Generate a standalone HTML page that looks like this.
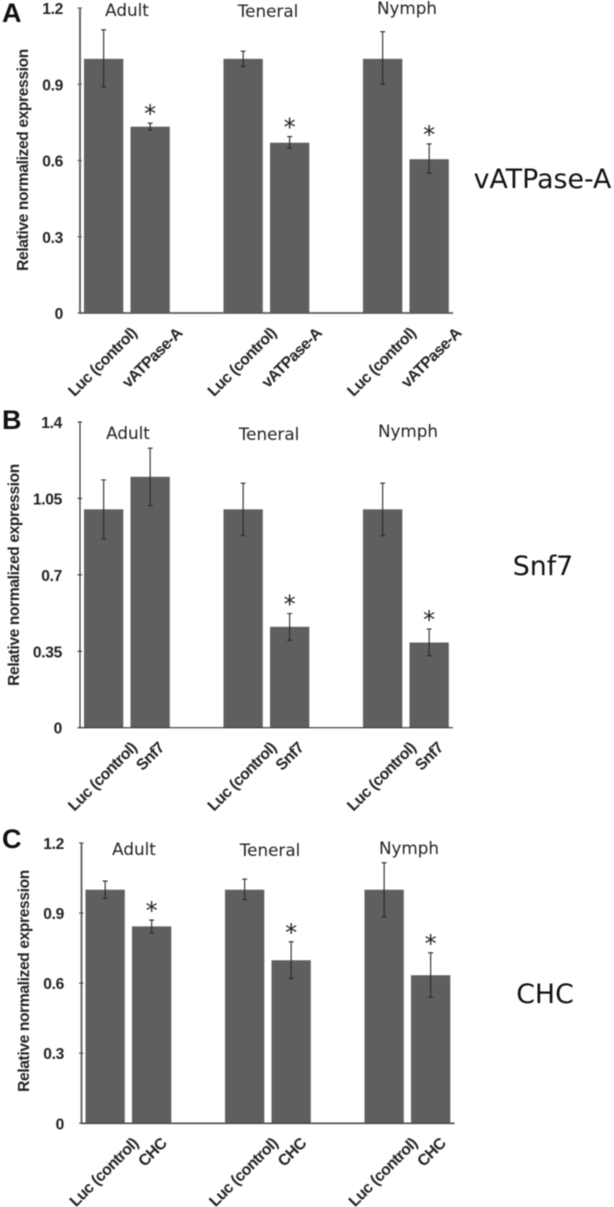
<!DOCTYPE html>
<html lang="en">
<head>
<meta charset="utf-8">
<title>Relative normalized expression after RNAi</title>
<style>
html,body{margin:0;padding:0;background:#fff;width:614px;height:1207px;overflow:hidden}
svg{display:block;filter:blur(0.4px)}
.sans{font-family:"Liberation Sans",sans-serif}
.dv{font-family:"DejaVu Sans",sans-serif}
</style>
</head>
<body>
<svg id="figure" width="614" height="1207" viewBox="0 0 614 1207" xmlns="http://www.w3.org/2000/svg"></svg>
<script>
const stages = ["Adult", "Teneral", "Nymph"];
const controlLabel = "Luc (control)";
const yTitle = "Relative normalized expression";

const geneA = "vATPase-A";
const ticksA = [0, 0.3, 0.6, 0.9, 1.2];
const tickLabelsA = ["0", "0.3", "0.6", "0.9", "1.2"];
const valuesA = [1, 0.733, 1, 0.67, 1, 0.605];
const errTopA = [1.114, 0.747, 1.03, 0.694, 1.107, 0.665];
const errBottomA = [0.89, 0.72, 0.97, 0.648, 0.9, 0.55];
const sigA = [0, 1, 0, 1, 0, 1];

const geneB = "Snf7";
const ticksB = [0, 0.35, 0.7, 1.05, 1.4];
const tickLabelsB = ["0", "0.35", "0.7", "1.05", "1.4"];
const valuesB = [1, 1.149, 1, 0.462, 1, 0.39];
const errTopB = [1.135, 1.28, 1.12, 0.523, 1.12, 0.452];
const errBottomB = [0.865, 1.017, 0.88, 0.4, 0.88, 0.33];
const sigB = [0, 0, 0, 1, 0, 1];

const geneC = "CHC";
const ticksC = [0, 0.3, 0.6, 0.9, 1.2];
const tickLabelsC = ["0", "0.3", "0.6", "0.9", "1.2"];
const valuesC = [1, 0.843, 1, 0.698, 1, 0.634];
const errTopC = [1.037, 0.87, 1.045, 0.777, 1.115, 0.73];
const errBottomC = [0.963, 0.815, 0.958, 0.62, 0.884, 0.54];
const sigC = [0, 1, 0, 1, 0, 1];

const svg = document.getElementById('figure');
const NS = 'http://www.w3.org/2000/svg';

function make(parent, tag, attrs, text) {
  const el = document.createElementNS(NS, tag);
  for (const k in attrs) el.setAttribute(k, attrs[k]);
  if (text !== undefined) el.textContent = text;
  parent.appendChild(el);
  return el;
}

function drawPanel(o) {
  const g = make(svg, 'g', {});
  
  

  const maxV = o.ticks[o.ticks.length - 1];
  const y = v => o.base - (v / maxV) * (o.base - o.top);
  const x = i => o.x0 + Math.floor(i / 2) * 139.5 + (i % 2) * 46.5;
  const barW = 39.3;

  const letter = make(g, 'text', {x: o.letterX, y: o.letterY, 'class': 'sans', 'font-size': 27, 'font-weight': 700, fill: '#111'}, o.letter);
  
  

  o.values.forEach((v, i) => {
    const bar = make(g, 'rect', {x: x(i), y: y(v), width: barW, height: o.base - y(v), fill: '#5f5f5f'});
    
    

    const cx = x(i) + barW / 2;
    const err = make(g, 'path', {
      d: 'M' + cx + ' ' + y(o.errTop[i]) + 'V' + y(o.errBottom[i]) +
         'M' + (cx - 2.5) + ' ' + y(o.errTop[i]) + 'H' + (cx + 2.5) +
         'M' + (cx - 2.5) + ' ' + y(o.errBottom[i]) + 'H' + (cx + 2.5),
      stroke: '#2a2a2a', 'stroke-width': 1.1, fill: 'none'});
    
    

    if (o.sig[i]) {
      const star = make(g, 'text', {x: cx, y: y(o.errTop[i]) - 1, 'class': 'dv', 'font-size': 24, 'text-anchor': 'middle', fill: '#222'}, '*');
      
      
    }

    const isControl = i % 2 === 0;
    const lx = cx + 16 + (isControl ? 18 : o.geneLabelDx);
    const ly = o.base + 21;
    const label = make(g, 'text', {
      x: lx, y: ly, 'class': 'sans', 'font-size': 15.8, 'font-weight': 700, 'letter-spacing': -0.55, 'text-anchor': 'end', fill: '#222',
      transform: 'rotate(-45 ' + lx + ' ' + ly + ')'}, isControl ? controlLabel : o.gene);
    
    
  });

  const axis = make(g, 'path', {
    d: 'M' + o.axisX + ' ' + o.top + 'V' + o.base + 'H' + (o.axisX + 373),
    stroke: o.axisColor, 'stroke-width': o.axisW, fill: 'none'});
  
  

  o.ticks.forEach((t, i) => {
    const tick = make(g, 'line', {x1: o.axisX - 2.5, x2: o.axisX + 2, y1: y(t), y2: y(t), stroke: o.axisColor, 'stroke-width': 1.1});
    
    
    const tl = make(g, 'text', {x: o.tickX, y: y(t) + 6, 'class': 'sans', 'font-size': 15.6, 'font-weight': 700, 'letter-spacing': -0.3, 'text-anchor': 'end', fill: '#222'}, o.tickLabels[i]);
    
    
  });

  const tx = o.titleX, ty = o.titleY;
  const title = make(g, 'text', {x: tx, y: ty, 'class': 'sans', 'font-size': 15.6, 'font-weight': 700, 'letter-spacing': -0.38, 'text-anchor': 'middle', fill: '#222', transform: 'rotate(-90 ' + tx + ' ' + ty + ')'}, yTitle);
  
  

  stages.forEach((s, i) => {
    const st = make(g, 'text', {x: o.stageX[i], y: o.stageY[i], 'class': 'dv', 'font-size': 16.8, 'text-anchor': 'middle', fill: '#222'}, s);
    
    
  });

  const gl = make(g, 'text', {x: o.geneX, y: o.geneY, 'class': 'dv', 'font-size': 26.8, 'text-anchor': 'middle', fill: '#111'}, o.gene);
  
  
}

drawPanel({letter: 'A', letterX: 2, letterY: 22, gene: geneA, ticks: ticksA, tickLabels: tickLabelsA,
  values: valuesA, errTop: errTopA, errBottom: errBottomA, sig: sigA, geneLabelDx: 17,
  top: 8, base: 313, axisX: 80, x0: 84, tickX: 63, titleX: 28, titleY: 160, axisW: 1.8, axisColor: '#5a5a5a',
  stageX: [127, 268, 407], stageY: [16, 17, 14], geneX: 542.5, geneY: 188});

drawPanel({letter: 'B', letterX: 2, letterY: 429, gene: geneB, ticks: ticksB, tickLabels: tickLabelsB,
  values: valuesB, errTop: errTopB, errBottom: errBottomB, sig: sigB, geneLabelDx: -1,
  top: 422, base: 727.7, axisX: 80, x0: 84, tickX: 62, titleX: 19, titleY: 575, axisW: 1.2, axisColor: '#333',
  stageX: [128, 269, 408], stageY: [439, 440, 437], geneX: 543, geneY: 575});

drawPanel({letter: 'C', letterX: 2, letterY: 848, gene: geneC, ticks: ticksC, tickLabels: tickLabelsC,
  values: valuesC, errTop: errTopC, errBottom: errBottomC, sig: sigC, geneLabelDx: 0,
  top: 843, base: 1123.3, axisX: 81.5, x0: 85.5, tickX: 64, titleX: 29, titleY: 981, axisW: 1.6, axisColor: '#4a4a4a',
  stageX: [134, 270, 409], stageY: [855, 856, 854], geneX: 545, geneY: 1003});
</script>
</body>
</html>
